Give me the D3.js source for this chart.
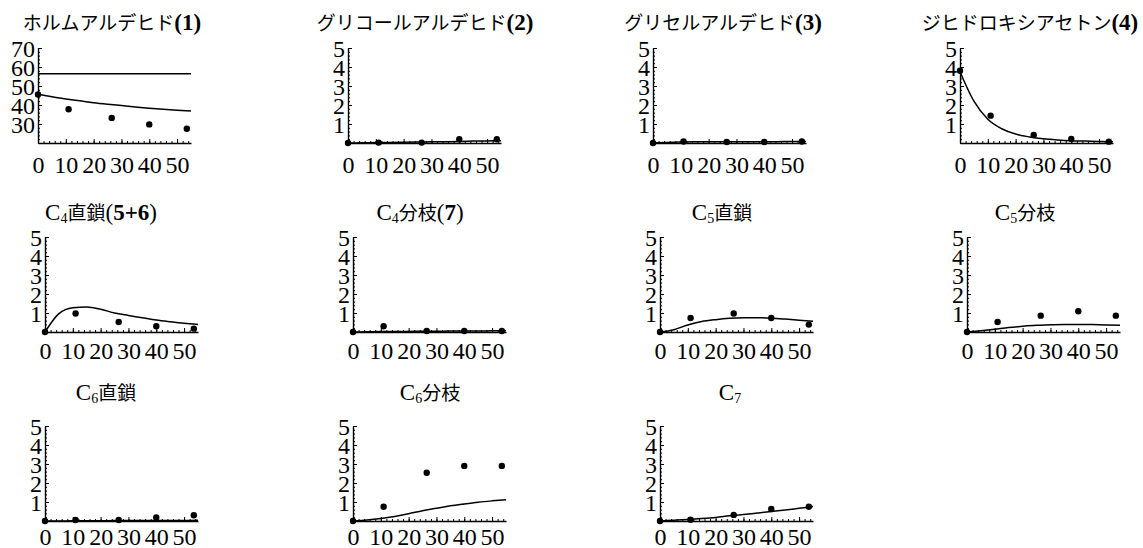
<!DOCTYPE html>
<html>
<head>
<meta charset="utf-8">
<script src="https://cdn.jsdelivr.net/npm/d3@7"></script>
<style>
body { margin: 0; background: #fff; }
svg text { font-family: "Liberation Serif", "Noto Sans CJK JP", serif; fill: #000; }
.tick text { font-size: 24px; }
.title { font-size: 19px; }
.latin { font-size: 23px; }
</style>
</head>
<body>
<script>
// sampling times (min) of the measured points and of the model curve
const sampleTimes = [0, 11, 26.5, 40, 53.5];
const modelTimes = [0, 5, 10, 15, 20, 25, 30, 35, 40, 45, 50, 55];

const obsFormaldehyde = [45.5, 37.8, 33.2, 29.8, 27.5];
const modelFormaldehyde = [45.6, 44.3, 43.2, 42.2, 41.2, 40.4, 39.7, 39.0, 38.3, 37.7, 37.2, 36.8];
const formaldehydeLevel = 56.5;

const obsGlycolaldehyde = [0, 0.02, 0.02, 0.2, 0.2];
const modelGlycolaldehyde = [0, 0.01, 0.02, 0.03, 0.04, 0.05, 0.06, 0.07, 0.08, 0.1, 0.11, 0.12];

const obsGlyceraldehyde = [0, 0.08, 0.05, 0.05, 0.08];
const modelGlyceraldehyde = [0, 0.03, 0.05, 0.06, 0.06, 0.06, 0.06, 0.06, 0.07, 0.07, 0.08, 0.08];

const obsDihydroxyacetone = [3.8, 1.44, 0.42, 0.21, 0.07];
const modelDihydroxyacetone = [3.75, 2.2, 1.25, 0.75, 0.47, 0.32, 0.22, 0.16, 0.12, 0.1, 0.08, 0.07];

const obsC4Linear = [0, 0.97, 0.53, 0.3, 0.18];
const modelC4Linear = [0, 0.97, 1.28, 1.32, 1.2, 1.0, 0.87, 0.75, 0.63, 0.54, 0.46, 0.4];

const obsC4Branched = [0, 0.3, 0.05, 0.05, 0.05];
const modelC4Branched = [0, 0.01, 0.02, 0.03, 0.03, 0.04, 0.04, 0.05, 0.05, 0.05, 0.06, 0.06];

const obsC5Linear = [0, 0.74, 0.97, 0.74, 0.39];
const modelC5Linear = [0, 0.12, 0.37, 0.55, 0.65, 0.72, 0.75, 0.75, 0.73, 0.68, 0.62, 0.56];

const obsC5Branched = [0, 0.53, 0.86, 1.09, 0.86];
const modelC5Branched = [0, 0.07, 0.15, 0.24, 0.3, 0.35, 0.38, 0.4, 0.4, 0.39, 0.37, 0.36];

const obsC6Linear = [0, 0.05, 0.05, 0.19, 0.3];
const modelC6Linear = [0, 0, 0.01, 0.01, 0.01, 0.02, 0.02, 0.02, 0.03, 0.03, 0.03, 0.04];

const obsC6Branched = [0, 0.75, 2.54, 2.9, 2.9];
const modelC6Branched = [0, 0.05, 0.13, 0.24, 0.38, 0.54, 0.67, 0.8, 0.9, 0.99, 1.06, 1.12];

const obsC7 = [0, 0.07, 0.32, 0.63, 0.75];
const modelC7 = [0, 0.04, 0.08, 0.13, 0.19, 0.27, 0.34, 0.42, 0.5, 0.58, 0.67, 0.76];

// title pieces: [text, style]  ("" kana/kanji, "l" latin, "b" bold latin, "s" subscript)
const titles = [
  [["ホルムアルデヒド", ""], ["(1)", "b"]],
  [["グリコールアルデヒド", ""], ["(2)", "b"]],
  [["グリセルアルデヒド", ""], ["(3)", "b"]],
  [["ジヒドロキシアセトン", ""], ["(4)", "b"]],
  [["C", "l"], ["4", "s"], ["直鎖", ""], ["(", "l"], ["5+6", "b"], [")", "l"]],
  [["C", "l"], ["4", "s"], ["分枝", ""], ["(", "l"], ["7", "b"], [")", "l"]],
  [["C", "l"], ["5", "s"], ["直鎖", ""]],
  [["C", "l"], ["5", "s"], ["分枝", ""]],
  [["C", "l"], ["6", "s"], ["直鎖", ""]],
  [["C", "l"], ["6", "s"], ["分枝", ""]],
  [["C", "l"], ["7", "s"]]
];

const xTicks = [0, 10, 20, 30, 40, 50];
const yTicksSmall = [1, 2, 3, 4, 5];
const yTicksBig = [30, 40, 50, 60, 70];

const observed = [obsFormaldehyde, obsGlycolaldehyde, obsGlyceraldehyde, obsDihydroxyacetone,
  obsC4Linear, obsC4Branched, obsC5Linear, obsC5Branched, obsC6Linear, obsC6Branched, obsC7];
const modelled = [modelFormaldehyde, modelGlycolaldehyde, modelGlyceraldehyde, modelDihydroxyacetone,
  modelC4Linear, modelC4Branched, modelC5Linear, modelC5Branched, modelC6Linear, modelC6Branched, modelC7];

// layout: axis origin x, x-axis y, title centre x
const W = 153, H = 95;
const originX = [38, 348, 653, 960, 45, 353, 660, 967, 45, 353, 660];
const rowY = [143, 332, 521];
const labelPad = [13, 10, 7];
const titleX = [112, 425, 723, 1030, 101, 420, 722, 1025, 106, 430, 730];
const titleY = [30, 220, 400];

const svg = d3.select("body").append("svg")
  .attr("width", 1143)
  .attr("height", 548);

const line = d3.line().curve(d3.curveMonotoneX);

observed.forEach(function (obs, i) {
  const row = i < 4 ? 0 : (i < 8 ? 1 : 2);
  const big = i === 0;
  const g = svg.append("g").attr("transform", "translate(" + originX[i] + "," + (rowY[row] - H) + ")");

  const x = d3.scaleLinear().domain([0, 55]).range([0, W]);
  const y = d3.scaleLinear().domain(big ? [20, 70] : [0, 5]).range([H, 0]);

  // minor ticks
  const minorX = d3.range(0, 28).map(function (k) { return k * 2; });
  const minorY = big ? d3.range(0, 26).map(function (k) { return 20 + k * 2; })
                     : d3.range(0, 26).map(function (k) { return k / 5; });

  g.append("g").attr("transform", "translate(0," + H + ")")
    .call(d3.axisBottom(x).tickValues(minorX).tickSize(-2).tickFormat(""))
    .call(function (a) { a.select(".domain").remove(); });
  g.append("g")
    .call(d3.axisLeft(y).tickValues(minorY).tickSize(-2).tickFormat(""))
    .call(function (a) { a.select(".domain").remove(); });

  // major axes
  const xa = g.append("g").attr("transform", "translate(0," + H + ")")
    .call(d3.axisBottom(x).tickValues(xTicks).tickSize(-4).tickSizeOuter(0)
      .tickPadding(labelPad[row]).tickFormat(d3.format("d")));
  const ya = g.append("g")
    .call(d3.axisLeft(y).tickValues(big ? yTicksBig : yTicksSmall).tickSize(-4).tickSizeOuter(0)
      .tickPadding(3).tickFormat(d3.format("d")));
  [xa, ya].forEach(function (a) {
    a.attr("font-size", null).attr("font-family", null);
    a.select(".domain").attr("stroke-width", 1.4);
  });
  ya.selectAll(".tick text").attr("dy", "0.34em");
  g.selectAll(".tick line").attr("stroke-width", 1);

  // model curve
  const pts = modelTimes.map(function (t, k) { return [x(t), y(modelled[i][k])]; });
  g.append("path").attr("d", line(pts))
    .attr("fill", "none").attr("stroke", "#000").attr("stroke-width", 1.5);

  if (big) {
    g.append("path")
      .attr("d", line([[x(0), y(formaldehydeLevel)], [x(55), y(formaldehydeLevel)]]))
      .attr("fill", "none").attr("stroke", "#000").attr("stroke-width", 1.5);
  }

  // measured points
  g.selectAll("circle.obs").data(obs).enter().append("circle")
    .attr("class", "obs")
    .attr("cx", function (d, k) { return x(sampleTimes[k]); })
    .attr("cy", function (d) { return y(d); })
    .attr("r", 3.2)
    .attr("fill", "#000");

  // title
  const t = svg.append("text").attr("class", "title")
    .attr("x", titleX[i]).attr("y", titleY[row])
    .attr("text-anchor", "middle");
  let sub = false;
  titles[i].forEach(function (piece) {
    const s = t.append("tspan").text(piece[0]);
    if (piece[1] === "l" || piece[1] === "b") s.attr("class", "latin");
    if (piece[1] === "b") s.attr("font-weight", "bold");
    if (piece[1] === "s") { s.attr("font-size", "14px").attr("dy", 3); sub = true; }
    else if (sub) { s.attr("dy", -3); sub = false; }
  });
});
</script>
</body>
</html>
